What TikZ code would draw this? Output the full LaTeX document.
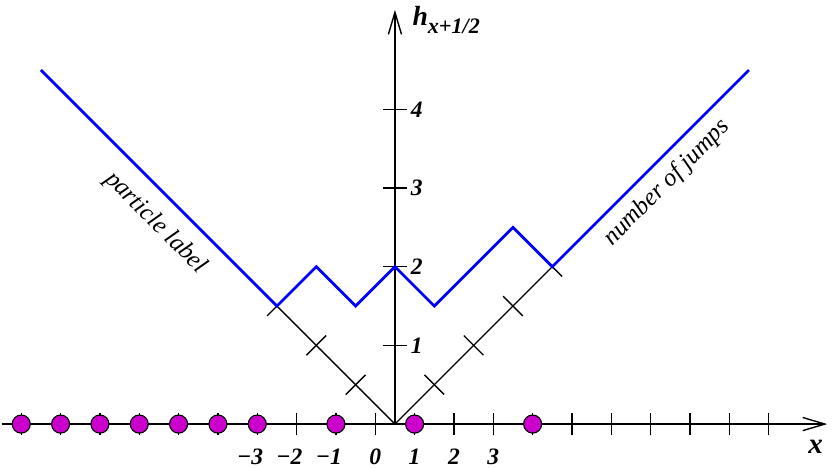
\documentclass[tikz,border=0pt]{standalone}
\usepackage{fontspec}
\setmainfont{Liberation Serif}
\usetikzlibrary{arrows.meta}
\definecolor{partcol}{RGB}{204,0,204}
\begin{document}
\begin{tikzpicture}[
  axis/.style={line width=1pt, -{Straight Barb[length=16pt,width=9.5pt,line width=1pt]}},
  tickline/.style={line width=1pt},
  hpath/.style={line width=2pt, blue, line join=miter},
  particle/.style={circle, draw=black, line width=0.8pt, fill=partcol, minimum size=0.46cm, inner sep=0pt},
  ticklab/.style={font=\fontsize{17}{20}\selectfont\bfseries\itshape, inner sep=0pt},
  sidelab/.style={font=\fontsize{18}{21}\selectfont\itshape, inner sep=0pt}
]
\useasboundingbox (-9.54,-1.093) rectangle (11.61,10.78);

% axes
\coordinate (xs) at (-9.49,0);
\coordinate (xe) at (11.49,0);
\coordinate (O) at (0.5,0);
\coordinate (ye) at (0.5,10.53);
\draw[axis] (xs) -- (xe);
\draw[axis] (O) -- (ye);

% x ticks
\foreach \k in {-9,...,10} {
  \coordinate (xt\k) at (\k,0);
  \draw[tickline] ([yshift=-0.29cm]xt\k) -- ([yshift=0.29cm]xt\k);
}

% vertical ticks
\foreach \k/\v in {2/1,4/2,6/3,8/4} {
  \coordinate (yt\k) at (0.5,\k);
  \draw[tickline] ([xshift=-0.3cm]yt\k) -- ([xshift=0.3cm]yt\k);
  \node[ticklab, anchor=west] (yl\v) at (0.9,\k) {\v};
}

% V diagonals
\coordinate (L) at (-2.5,3);
\coordinate (R) at (4.5,4);
\draw[tickline] (L) -- (O) -- (R);
\foreach \p in {(-0.5,1),(-1.5,2),(-2.5,3)} {
  \draw[tickline] \p ++(-0.25,-0.25) -- ++(0.5,0.5);
}
\foreach \p in {(1.5,1),(2.5,2),(3.5,3),(4.5,4)} {
  \draw[tickline] \p ++(-0.25,0.25) -- ++(0.5,-0.5);
}

% height path
\draw[hpath] (-8.5,9) -- (L) -- (-1.5,4) -- (-0.5,3) -- (0.5,4) -- (1.5,3) -- (3.5,5) -- (R) -- (9.5,9);

% particles
\foreach \k in {-9,-8,-7,-6,-5,-4,-3,-1,1,4} {
  \node[particle] (p\k) at (xt\k) {};
}

% x tick labels
\foreach \k/\t in {-3/\llap{−}3,-2/\llap{−}2,-1/\llap{−}1,0/0,1/1,2/2,3/3} {
  \node[ticklab, anchor=base] (xl\k) at (\k,-1.02) {\t};
}

% axis labels
\node[anchor=base west, inner sep=0pt, font=\fontsize{20}{24}\selectfont\bfseries\itshape] (hlab) at (0.94,10.14)
  {h\raisebox{-5.8pt}{\fontsize{16}{18}\selectfont x+1/2}};
\node[anchor=base west, inner sep=0pt, font=\fontsize{21}{24}\selectfont\bfseries\itshape] (xlab) at (11.0,-0.76) {x};

% side labels
\node[sidelab, rotate=-45] (plab) at (-5.58,5.11) {particle label};
\node[sidelab, rotate=45] (jlab) at (7.42,6.13) {number of jumps};
\end{tikzpicture}
\end{document}
